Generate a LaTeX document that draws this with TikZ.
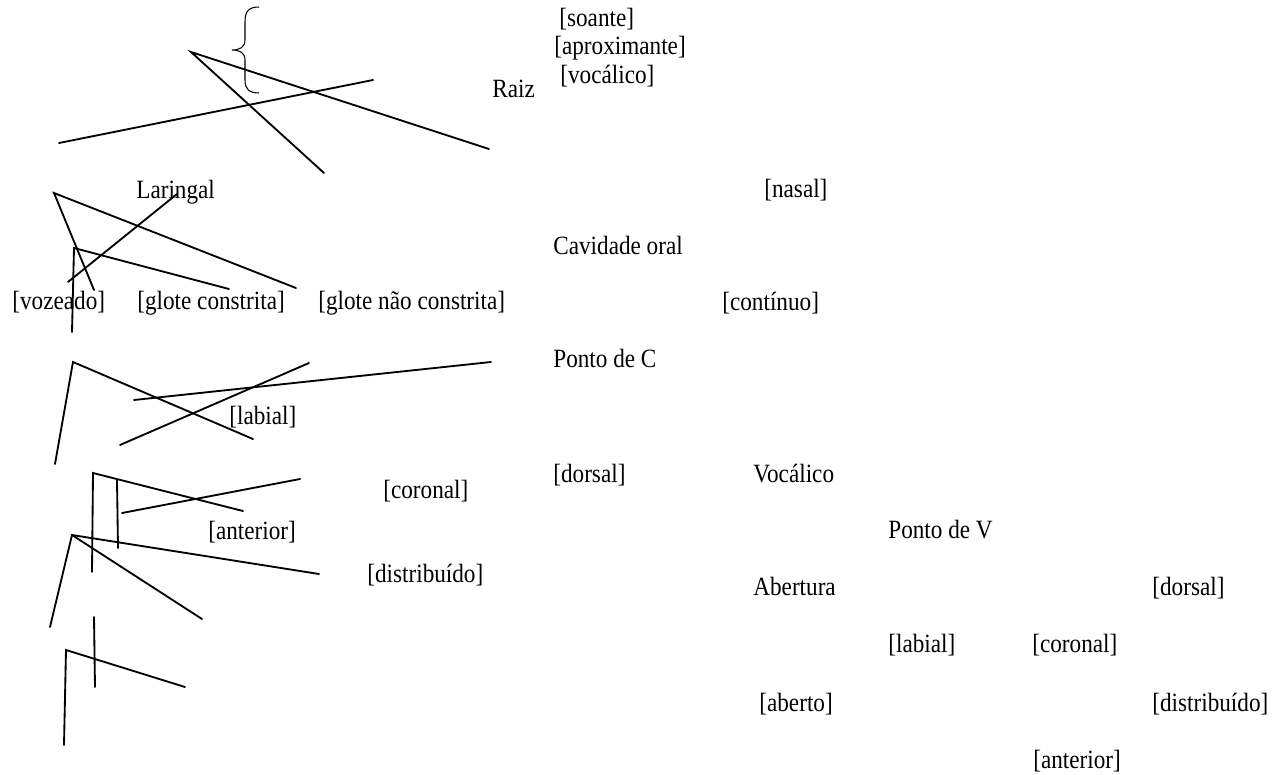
\documentclass[tikz,border=0pt]{standalone}
\usepackage{fontspec}
\setmainfont{Liberation Serif}[FakeStretch=0.88]
\usetikzlibrary{positioning}

\begin{document}
\begin{tikzpicture}[
    x=0.02cm, y=-0.02cm,
    feat/.style={
        anchor=west,
        inner sep=0pt,
        text height=0.69em,
        text depth=0.18em,
        font=\fontsize{15}{18}\selectfont
    },
    stroke/.style={line width=1.05pt, line cap=round},
    thin stroke/.style={line width=0.6pt}
]
    \useasboundingbox (0,0) rectangle (1283,774);

    % root and its features
    \node[feat] (raiz) at (492,93) {Raiz};
    \node[feat] (soante) at (559,22) {[soante]};
    \node[feat] (aprox) at (554,50) {[aproximante]};
    \node[feat] (vocal) at (560,79) {[vocálico]};

    % laryngeal node
    \node[feat] (laringal) at (136,194) {Laringal};
    \node[feat] (vozeado) at (12,305) {[vozeado]};
    \node[feat] (glotec) at (137,305) {[glote constrita]};
    \node[feat] (gloten) at (318,305) {[glote não constrita]};

    % oral cavity
    \node[feat] (nasal) at (764,193) {[nasal]};
    \node[feat] (cavidade) at (553,250) {Cavidade oral};
    \node[feat] (continuo) at (722,306) {[contínuo]};
    \node[feat] (pontoc) at (553,363) {Ponto de C};
    \node[feat] (labialc) at (229,420) {[labial]};
    \node[feat] (dorsalc) at (553,478) {[dorsal]};
    \node[feat] (coronalc) at (383,494) {[coronal]};
    \node[feat] (anteriorc) at (208,535) {[anterior]};
    \node[feat] (distribc) at (367,578) {[distribuído]};

    % vocalic node
    \node[feat] (vocalico) at (753,478) {Vocálico};
    \node[feat] (pontov) at (888,534) {Ponto de V};
    \node[feat] (abertura) at (753,591) {Abertura};
    \node[feat] (dorsalv) at (1152,591) {[dorsal]};
    \node[feat] (labialv) at (888,648) {[labial]};
    \node[feat] (coronalv) at (1032,648) {[coronal]};
    \node[feat] (aberto) at (759,707) {[aberto]};
    \node[feat] (distribv) at (1152,707) {[distribuído]};
    \node[feat] (anteriorv) at (1033,764) {[anterior]};

    % brace over the root features
    \draw[thin stroke] (259,7) .. controls (248,7) and (245,12) .. (245,22)
        -- (245,40) .. controls (245,47) and (240,50) .. (232,50)
        .. controls (240,50) and (245,53) .. (245,60)
        -- (245,80) .. controls (245,89) and (249,93) .. (259,93);

    % branches under the root
    \draw[stroke] (489,149) -- (191,52) -- (324,173);
    \draw[stroke] (59,143) -- (373,80);

    % branches under Laringal
    \draw[stroke] (296,288) -- (54,193) -- (94,290);
    \draw[stroke] (177,194) -- (68,282);
    \draw[stroke] (229,289) -- (74,248) -- (72,332);

    % branches under Cavidade oral
    \draw[stroke] (253,439) -- (73,362) -- (55,464);
    \draw[stroke] (134,400) -- (491,362);
    \draw[stroke] (120,445) -- (309,363);

    % coronal part
    \draw[stroke] (243,511) -- (93,473) -- (92,572);
    \draw[stroke] (117,480) -- (118,548);
    \draw[stroke] (122,513) -- (300,479);
    \draw[stroke] (319,574) -- (72,535) -- (50,627);
    \draw[stroke] (72,535) -- (202,619);

    % lowest branch
    \draw[stroke] (94,617) -- (95,687);
    \draw[stroke] (185,687) -- (66,650) -- (64,745);
\end{tikzpicture}
\end{document}
